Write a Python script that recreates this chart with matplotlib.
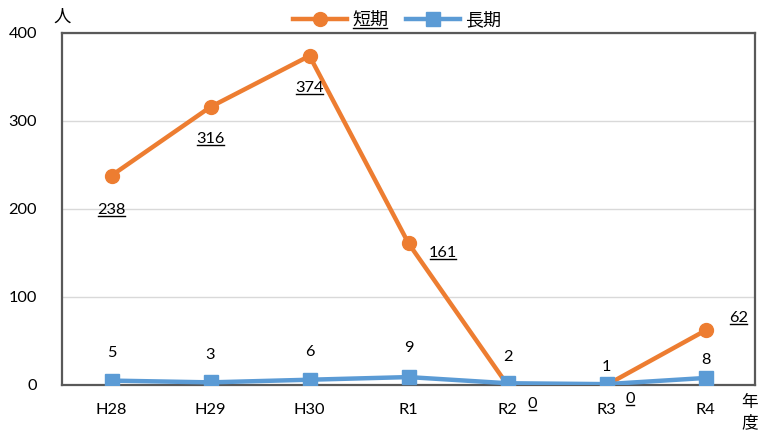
import matplotlib
matplotlib.use("Agg")
import matplotlib.pyplot as plt
from matplotlib.lines import Line2D

plt.rcParams['font.family'] = ['Lato', 'Noto Sans CJK JP', 'DejaVu Sans']

categories = ["H28", "H29", "H30", "R1", "R2", "R3", "R4"]
short_term = [238, 316, 374, 161, 0, 0, 62]
long_term = [5, 3, 6, 9, 2, 1, 8]
short_name = "短期"
long_name = "長期"
yticks = [0, 100, 200, 300, 400]

ORANGE = "#ED7D31"
BLUE = "#5B9BD5"
FRAME = "#595959"
FS = 11.8

fig = plt.figure(figsize=(7.58, 4.32), dpi=100)
ax = fig.add_axes([62/758, 47/432, 693/758, 352/432])

x = list(range(len(categories)))
ax.plot(x, short_term, color=ORANGE, lw=3.2, marker='o', ms=10, label=short_name, zorder=3)
ax.plot(x, long_term, color=BLUE, lw=3.2, marker='s', ms=10, label=long_name, zorder=4)

ax.set_xlim(-0.5, len(categories) - 0.5)
ax.set_ylim(0, 400)
ax.set_yticks(yticks)
ax.set_xticks(x)
ax.set_xticklabels(categories, fontsize=FS)
ax.tick_params(axis='y', labelsize=FS, length=0, pad=18)
ax.tick_params(axis='x', length=0, pad=13)
ax.grid(axis='y', color='#D9D9D9', lw=1)
ax.set_axisbelow(True)
for s in ax.spines.values():
    s.set_color(FRAME)
    s.set_linewidth(1.6)

# 短期 labels (underlined), offsets in points
short_offsets = [(0, -25), (0, -23), (0, -23), (25, -7), (18, -14), (17, -10), (24, 9)]
underlined = []
for xi, v, (dx, dy) in zip(x, short_term, short_offsets):
    t = ax.annotate(str(v), (xi, v), xytext=(dx, dy), textcoords='offset points',
                    ha='center', va='center', fontsize=FS, zorder=6)
    underlined.append(t)

long_offsets = [(0, 20), (0, 20), (0, 20), (0, 21), (0, 19), (0, 12), (0, 13)]
for xi, v, (dx, dy) in zip(x, long_term, long_offsets):
    ax.annotate(str(v), (xi, v), xytext=(dx, dy), textcoords='offset points',
                ha='center', va='center', fontsize=FS, zorder=6)

fig.text(62/758, 1 - 17/432, "人", ha='center', va='center', fontsize=12.5,
         family=['Noto Sans CJK JP'])
fig.text(750/758, 1 - 403/432, "年", ha='center', va='center', fontsize=12,
         family=['Noto Sans CJK JP'])
fig.text(750/758, 1 - 423/432, "度", ha='center', va='center', fontsize=12,
         family=['Noto Sans CJK JP'])

leg = fig.legend(loc='center', bbox_to_anchor=(397/758, 1 - 20/432), ncol=2,
                 frameon=False, handlelength=3.0, columnspacing=1.0, handletextpad=0.25,
                 prop={'family': ['Noto Sans CJK JP'], 'size': 13})
underlined.append(leg.get_texts()[0])

fig.canvas.draw()
r = fig.canvas.get_renderer()
inv = fig.transFigure.inverted()
for t in underlined:
    bb = t.get_window_extent(r)
    y = bb.y0 + 1
    (x0, y0) = inv.transform((bb.x0 + 1, y))
    (x1, _) = inv.transform((bb.x1 - 1, y))
    fig.add_artist(Line2D([x0, x1], [y0, y0], color='black', lw=1, transform=fig.transFigure))

fig.savefig("out.png", dpi=100)
